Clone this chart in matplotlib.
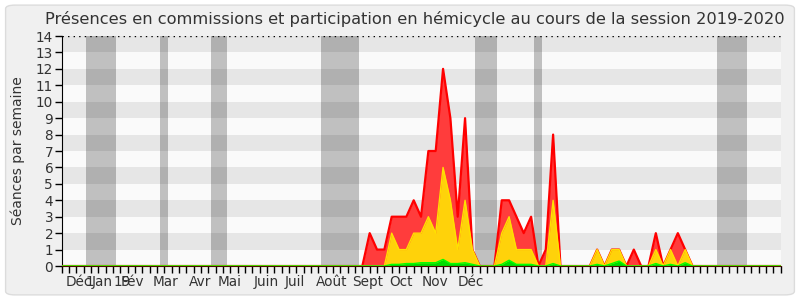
import matplotlib
matplotlib.use('Agg')
import matplotlib.pyplot as plt
from matplotlib.patches import FancyBboxPatch
import numpy as np

# Données : séances par semaine (semaines 0 à 98)
nb_semaines = 99
semaines = np.arange(nb_semaines)

# Total (rouge), hémicycle (jaune), commissions avec intervention (vert)
seances_total = ([0] * 42 + [2, 1, 1, 3, 3, 3, 4, 3, 7, 7, 12, 9, 3, 9, 1, 0,
                             0, 0, 4, 4, 3, 2, 3, 0, 1, 8, 0,
                             0, 0, 0, 0, 1, 0, 1, 1, 0, 1, 0, 0, 2, 0, 1, 2, 1, 0]
                 + [0] * 12)
seances_hemicycle = ([0] * 45 + [2, 1, 1, 2, 2, 3, 2, 6, 4, 1, 4, 1, 0,
                                 0, 0, 2, 3, 1, 1, 1, 0, 0, 4, 0,
                                 0, 0, 0, 0, 1, 0, 1, 1, 0, 0, 0, 0, 1, 0, 1, 0, 1, 0]
                     + [0] * 12)
seances_commission = ([0] * 45 + [0.1, 0.1, 0.15, 0.15, 0.2, 0.2, 0.2, 0.4, 0.15, 0.15, 0.2, 0.1, 0,
                                  0, 0, 0.1, 0.35, 0.1, 0.1, 0.1, 0, 0, 0.15, 0,
                                  0, 0, 0, 0, 0.1, 0, 0.15, 0.3, 0, 0, 0, 0, 0.15, 0, 0.1, 0, 0.2, 0]
                      + [0] * 12)

# Vacances parlementaires (début, fin en semaines)
vacances = [(3.35, 7.45), (13.4, 14.5), (20.4, 22.55), (35.35, 40.5),
            (56.35, 59.4), (64.45, 65.5), (89.35, 93.4)]

# Etiquettes des mois (position en semaines)
mois_labels = ['Déc', '1', 'Jan', '19', 'Fév', 'Mar', 'Avr', 'Mai', 'Juin', 'Juil',
               'Août', 'Sept', 'Oct', 'Nov', 'Déc']
mois_pos = [2.39, 3.82, 5.59, 8.25, 9.61, 14.11, 18.88, 22.9, 27.87, 31.83,
            36.87, 41.77, 46.27, 50.91, 55.81]

couleur_texte = '#333333'

fig = plt.figure(figsize=(8, 3), dpi=100, facecolor='white')
fond = FancyBboxPatch((0.007, 0.017), 0.986, 0.966, boxstyle='round,pad=0,rounding_size=0.012',
                      transform=fig.transFigure, facecolor='#f0f0f0', edgecolor='#dcdcdc',
                      linewidth=1, zorder=-10)
fig.patches.append(fond)

ax = fig.add_axes([0.0769, 0.1133, 0.8988, 0.7667])
ax.set_facecolor('#fafafa')

# Bandes de vacances
for debut, fin in vacances:
    ax.axvspan(debut, fin, color='#c0c0c0', linewidth=0, zorder=1)

# Bandes horizontales alternées
for y in range(1, 14, 2):
    ax.axhspan(y, y + 1, color='black', alpha=0.08, linewidth=0, zorder=2)

ax.axhline(14, color='black', linestyle=(0, (1, 3)), linewidth=1, zorder=3)

# Séries
ax.fill_between(semaines, 0, seances_total, color='#ff3c3c', linewidth=0, zorder=4)
ax.plot(semaines, seances_total, color='#ff0000', linewidth=1.6, zorder=5)
ax.fill_between(semaines, 0, seances_hemicycle, color='#ffd20a', linewidth=0, zorder=6)
ax.plot(semaines, seances_hemicycle, color='#ffe100', linewidth=1.0, zorder=7)
ax.fill_between(semaines, 0, seances_commission, color='#00dd00', linewidth=0, zorder=8)
ax.plot(semaines, seances_commission, color='#00ff00', linewidth=1.0, zorder=9)

ax.set_xlim(0, nb_semaines - 1)
ax.set_ylim(0, 14)

ax.set_yticks(range(0, 15))
ax.set_xticks(semaines)
ax.set_xticklabels([])
ax.tick_params(axis='y', length=5, width=1, colors='black', labelcolor=couleur_texte,
               labelsize=9.8, pad=1)
ax.tick_params(axis='x', length=5, width=1, colors='black')

for lab, pos in zip(mois_labels, mois_pos):
    ax.text(pos, -0.55, lab, ha='center', va='top', fontsize=9.8, color=couleur_texte,
            clip_on=False)

for cote in ['top', 'right']:
    ax.spines[cote].set_visible(False)
ax.spines['left'].set_color('black')
ax.spines['bottom'].set_color('#4a0c00')
ax.spines['bottom'].set_zorder(10)

ax.set_ylabel('Séances par semaine', fontsize=10, color=couleur_texte, labelpad=8)
fig.text(0.518, 0.962, 'Présences en commissions et participation en hémicycle au cours de la session 2019-2020',
         ha='center', va='top', fontsize=11.7, color=couleur_texte)

plt.savefig('out.png', dpi=100)
